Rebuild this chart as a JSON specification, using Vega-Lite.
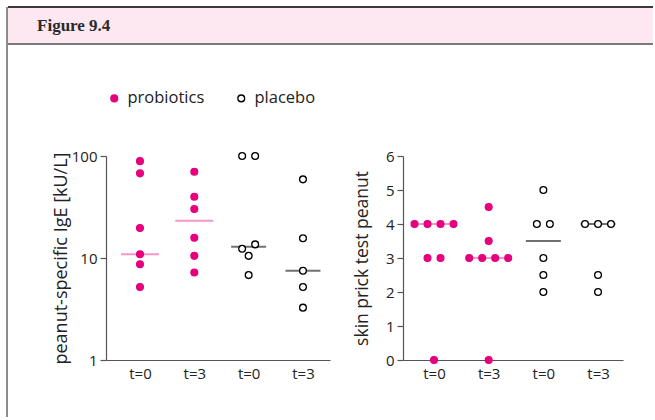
{
  "$schema": "https://vega.github.io/schema/vega-lite/v6.json",
  "background": "white",
  "padding": {"left": 6, "top": 6, "right": 0, "bottom": 0},
  "bounds": "flush",
  "spacing": 0,
  "config": {
    "view": {"stroke": null},
    "font": "Open Sans",
    "axis": {
      "grid": false,
      "domainColor": "#555555",
      "domainWidth": 1.2,
      "tickColor": "#555555",
      "tickWidth": 1.2,
      "tickSize": 6,
      "labelFont": "Open Sans",
      "labelFontSize": 15,
      "labelColor": "#222222",
      "titleFont": "Open Sans",
      "titleFontSize": 17,
      "titleFontWeight": "normal",
      "titleColor": "#222222"
    }
  },
  "datasets": {
    "ige": [
      {"treatment": "probiotics", "time": "t=0", "value": 89},
      {"treatment": "probiotics", "time": "t=0", "value": 67.6},
      {"treatment": "probiotics", "time": "t=0", "value": 19.7},
      {"treatment": "probiotics", "time": "t=0", "value": 10.9},
      {"treatment": "probiotics", "time": "t=0", "value": 8.7},
      {"treatment": "probiotics", "time": "t=0", "value": 5.2},
      {"treatment": "probiotics", "time": "t=3", "value": 70.2},
      {"treatment": "probiotics", "time": "t=3", "value": 39.9},
      {"treatment": "probiotics", "time": "t=3", "value": 30.2},
      {"treatment": "probiotics", "time": "t=3", "value": 15.8},
      {"treatment": "probiotics", "time": "t=3", "value": 10.5},
      {"treatment": "probiotics", "time": "t=3", "value": 7.2},
      {"treatment": "placebo", "time": "t=0", "value": 100},
      {"treatment": "placebo", "time": "t=0", "value": 100},
      {"treatment": "placebo", "time": "t=0", "value": 13.6},
      {"treatment": "placebo", "time": "t=0", "value": 12.3},
      {"treatment": "placebo", "time": "t=0", "value": 10.5},
      {"treatment": "placebo", "time": "t=0", "value": 6.8},
      {"treatment": "placebo", "time": "t=3", "value": 59},
      {"treatment": "placebo", "time": "t=3", "value": 15.6},
      {"treatment": "placebo", "time": "t=3", "value": 7.5},
      {"treatment": "placebo", "time": "t=3", "value": 5.2},
      {"treatment": "placebo", "time": "t=3", "value": 3.26}
    ],
    "ige_median": [
      {"treatment": "probiotics", "time": "t=0", "median": 10.9},
      {"treatment": "probiotics", "time": "t=3", "median": 23.2},
      {"treatment": "placebo", "time": "t=0", "median": 12.9},
      {"treatment": "placebo", "time": "t=3", "median": 7.5}
    ],
    "spt": [
      {"treatment": "probiotics", "time": "t=0", "value": 4},
      {"treatment": "probiotics", "time": "t=0", "value": 4},
      {"treatment": "probiotics", "time": "t=0", "value": 4},
      {"treatment": "probiotics", "time": "t=0", "value": 4},
      {"treatment": "probiotics", "time": "t=0", "value": 3},
      {"treatment": "probiotics", "time": "t=0", "value": 3},
      {"treatment": "probiotics", "time": "t=0", "value": 0},
      {"treatment": "probiotics", "time": "t=3", "value": 4.5},
      {"treatment": "probiotics", "time": "t=3", "value": 3.5},
      {"treatment": "probiotics", "time": "t=3", "value": 3},
      {"treatment": "probiotics", "time": "t=3", "value": 3},
      {"treatment": "probiotics", "time": "t=3", "value": 3},
      {"treatment": "probiotics", "time": "t=3", "value": 3},
      {"treatment": "probiotics", "time": "t=3", "value": 0},
      {"treatment": "placebo", "time": "t=0", "value": 5},
      {"treatment": "placebo", "time": "t=0", "value": 4},
      {"treatment": "placebo", "time": "t=0", "value": 4},
      {"treatment": "placebo", "time": "t=0", "value": 3},
      {"treatment": "placebo", "time": "t=0", "value": 2.5},
      {"treatment": "placebo", "time": "t=0", "value": 2},
      {"treatment": "placebo", "time": "t=3", "value": 4},
      {"treatment": "placebo", "time": "t=3", "value": 4},
      {"treatment": "placebo", "time": "t=3", "value": 4},
      {"treatment": "placebo", "time": "t=3", "value": 2.5},
      {"treatment": "placebo", "time": "t=3", "value": 2}
    ],
    "spt_median": [
      {"treatment": "probiotics", "time": "t=0", "median": 4},
      {"treatment": "probiotics", "time": "t=3", "median": 3},
      {"treatment": "placebo", "time": "t=0", "median": 3.5},
      {"treatment": "placebo", "time": "t=3", "median": 4}
    ]
  },
  "hconcat": [
    {
      "width": 1,
      "height": 410,
      "data": {"values": [{}]},
      "mark": {"type": "rule", "color": "#8c8c8c", "strokeWidth": 2},
      "encoding": {
        "x": {"datum": 0, "type": "quantitative", "scale": {"domain": [0, 1]}, "axis": null}
      }
    },
    {
      "bounds": "flush",
      "spacing": 112,
      "vconcat": [
        {
          "width": 645,
          "height": 37,
          "view": {"fill": "#fde7f0", "stroke": null},
          "data": {"values": [{}]},
          "layer": [
            {
              "mark": {"type": "rule", "color": "#3a3a3a", "strokeWidth": 2},
              "encoding": {
                "y": {"datum": 1, "type": "quantitative", "scale": {"domain": [0, 1], "nice": false}, "axis": null}
              }
            },
            {
              "mark": {"type": "rule", "color": "#7a7a7a", "strokeWidth": 2},
              "encoding": {
                "y": {"datum": 0, "type": "quantitative", "scale": {"domain": [0, 1], "nice": false}, "axis": null}
              }
            },
            {
              "mark": {"type": "text", "align": "left", "baseline": "middle", "font": "Liberation Serif", "fontWeight": "bold", "fontSize": 17, "color": "#2a2a2a"},
              "encoding": {
                "text": {"value": "Figure 9.4"},
                "x": {"datum": 0.045, "type": "quantitative", "scale": {"domain": [0, 1], "nice": false}, "axis": null},
                "y": {"datum": 0.5, "type": "quantitative", "scale": {"domain": [0, 1], "nice": false}, "axis": null}
              }
            }
          ]
        },
        {
          "bounds": "flush",
          "spacing": 73,
          "resolve": {"legend": {"fill": "independent", "stroke": "independent"}},
          "hconcat": [
            {
              "width": 25,
              "height": 204,
              "data": {"values": [{}]},
              "mark": {"type": "point", "opacity": 0}
            },
            {
              "width": 224,
              "height": 204,
              "layer": [
                {
                  "data": {"name": "ige_median"},
                  "transform": [{"calculate": "datum.treatment + ' ' + datum.time", "as": "group"}],
                  "mark": {"type": "tick", "orient": "horizontal", "thickness": 2},
                  "encoding": {
                    "x": {"field": "group", "type": "nominal"},
                    "y": {"field": "median", "type": "quantitative"},
                    "color": {"field": "treatment", "type": "nominal", "scale": {"domain": ["probiotics", "placebo"], "range": ["#f06ab2", "#333333"]}, "legend": null},
                    "size": {"field": "treatment", "type": "nominal", "scale": {"domain": ["probiotics", "placebo"], "range": [38, 35]}, "legend": null}
                  }
                },
                {
                  "data": {"name": "ige"},
                  "transform": [
                    {"calculate": "datum.treatment + ' ' + datum.time", "as": "group"},
                    {"calculate": "round(log(datum.value) / LN10 * 10)", "as": "bucket"},
                    {"window": [{"op": "row_number", "as": "rank"}, {"op": "count", "as": "n"}], "groupby": ["group", "bucket"], "sort": [{"field": "value"}], "frame": [null, null]},
                    {"calculate": "datum.rank - (datum.n + 1) / 2", "as": "dodge"}
                  ],
                  "mark": {"type": "point", "shape": "circle", "size": 46, "strokeWidth": 1.3, "opacity": 1},
                  "encoding": {
                    "x": {"field": "group", "type": "nominal"},
                    "xOffset": {"field": "dodge", "type": "quantitative", "scale": {"domain": [-1, 1], "range": [-13, 13]}},
                    "y": {"field": "value", "type": "quantitative"},
                    "fill": {"field": "treatment", "type": "nominal", "scale": {"domain": ["probiotics", "placebo"], "range": ["#e6007e", "#ffffff"]},
                      "legend": {"orient": "top", "direction": "horizontal", "title": null, "offset": 49, "padding": 0, "labelFont": "Open Sans", "labelFontSize": 16.5, "labelColor": "#222222", "symbolSize": 46, "symbolStrokeWidth": 1.3, "labelOffset": 5, "columnPadding": 28}},
                    "stroke": {"field": "treatment", "type": "nominal", "scale": {"domain": ["probiotics", "placebo"], "range": ["#e6007e", "#000000"]},
                      "legend": {"orient": "top", "direction": "horizontal", "title": null, "offset": 49, "padding": 0, "labelFont": "Open Sans", "labelFontSize": 16.5, "labelColor": "#222222", "symbolSize": 46, "symbolStrokeWidth": 1.3, "labelOffset": 5, "columnPadding": 28}}
                  }
                }
              ],
              "encoding": {
                "x": {
                  "field": "group", "type": "nominal",
                  "scale": {"type": "point", "domain": ["probiotics t=0", "probiotics t=3", "placebo t=0", "placebo t=3"], "padding": 0.5615, "align": 0.557},
                  "axis": {"title": null, "ticks": false, "labelAngle": 0, "labelExpr": "split(datum.label, ' ')[1]", "labelPadding": 6}
                },
                "y": {
                  "type": "quantitative",
                  "scale": {"type": "log", "domain": [1, 100], "nice": false},
                  "axis": {"values": [1, 10, 100], "format": "d", "labelPadding": 3, "titlePadding": 1, "titleFontSize": 18, "title": "peanut-specific IgE [kU/L]"}
                }
              }
            },
            {
              "width": 220,
              "height": 204,
              "layer": [
                {
                  "data": {"name": "spt_median"},
                  "transform": [{"calculate": "datum.treatment + ' ' + datum.time", "as": "group"}],
                  "mark": {"type": "tick", "orient": "horizontal", "thickness": 2},
                  "encoding": {
                    "x": {"field": "group", "type": "nominal"},
                    "y": {"field": "median", "type": "quantitative"},
                    "color": {"field": "treatment", "type": "nominal", "scale": {"domain": ["probiotics", "placebo"], "range": ["#f06ab2", "#333333"]}, "legend": null},
                    "size": {"field": "treatment", "type": "nominal", "scale": {"domain": ["probiotics", "placebo"], "range": [40, 31]}, "legend": null}
                  }
                },
                {
                  "data": {"name": "spt"},
                  "transform": [
                    {"calculate": "datum.treatment + ' ' + datum.time", "as": "group"},
                    {"window": [{"op": "row_number", "as": "rank"}, {"op": "count", "as": "n"}], "groupby": ["group", "value"], "sort": [{"field": "value"}], "frame": [null, null]},
                    {"calculate": "datum.rank - (datum.n + 1) / 2", "as": "dodge"}
                  ],
                  "mark": {"type": "point", "shape": "circle", "size": 46, "strokeWidth": 1.3, "opacity": 1},
                  "encoding": {
                    "x": {"field": "group", "type": "nominal"},
                    "xOffset": {"field": "dodge", "type": "quantitative", "scale": {"domain": [-1, 1], "range": [-9, 9]}},
                    "y": {"field": "value", "type": "quantitative"},
                    "fill": {"field": "treatment", "type": "nominal", "scale": {"domain": ["probiotics", "placebo"], "range": ["#e6007e", "#ffffff"]}, "legend": null},
                    "stroke": {"field": "treatment", "type": "nominal", "scale": {"domain": ["probiotics", "placebo"], "range": ["#e6007e", "#000000"]}, "legend": null}
                  }
                }
              ],
              "encoding": {
                "x": {
                  "field": "group", "type": "nominal",
                  "scale": {"type": "point", "domain": ["probiotics t=0", "probiotics t=3", "placebo t=0", "placebo t=3"], "padding": 0.512, "align": 0.554},
                  "axis": {"title": null, "ticks": false, "labelAngle": 0, "labelExpr": "split(datum.label, ' ')[1]", "labelPadding": 6}
                },
                "y": {
                  "type": "quantitative",
                  "scale": {"domain": [0, 6], "nice": false},
                  "axis": {"values": [0, 1, 2, 3, 4, 5, 6], "labelPadding": 3, "titlePadding": 14, "titleFontSize": 17.5, "title": "skin prick test peanut"}
                }
              }
            }
          ]
        }
      ]
    }
  ]
}
